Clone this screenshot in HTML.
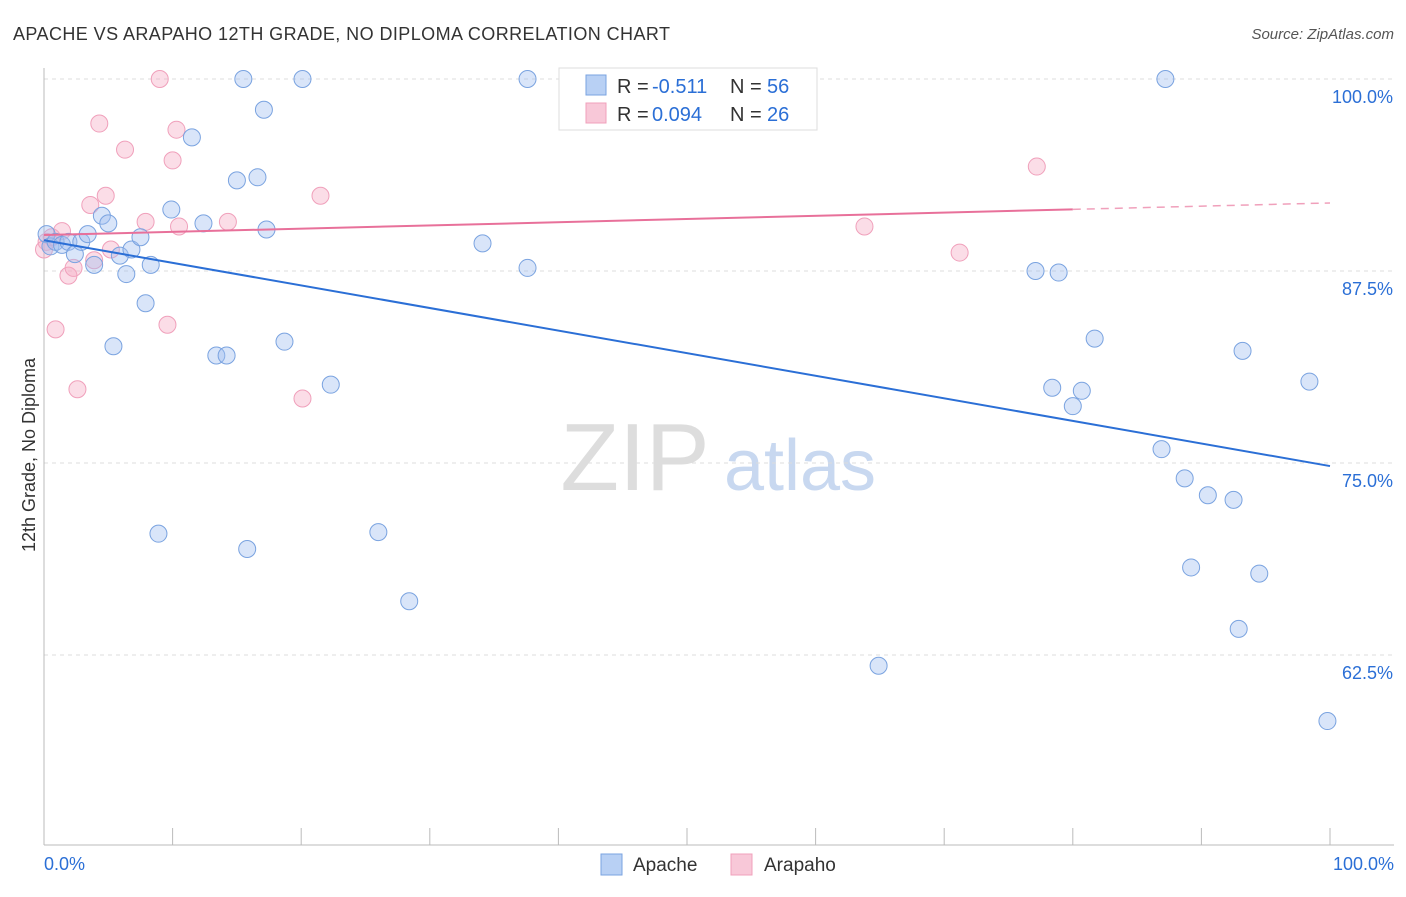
<!DOCTYPE html>
<html><head><meta charset="utf-8"><style>
body{margin:0;background:#fff;font-family:"Liberation Sans",sans-serif;}
svg text{font-family:"Liberation Sans",sans-serif;}
</style></head><body>
<svg id="chart" width="1406" height="892">
<text x="13" y="40" font-size="18" fill="#333" textLength="657">APACHE VS ARAPAHO 12TH GRADE, NO DIPLOMA CORRELATION CHART</text>
<text x="1394" y="39" font-size="15" fill="#555" text-anchor="end" font-style="italic">Source: ZipAtlas.com</text>
<text x="35" y="455" font-size="18" fill="#333" text-anchor="middle" transform="rotate(-90 35 455)">12th Grade, No Diploma</text>
<g><text x="635" y="490" font-size="96" fill="#ddd" text-anchor="middle" font-family="Liberation Serif">ZIP</text><text x="800" y="490" font-size="72" fill="#c8d8f0" text-anchor="middle">atlas</text></g>
<g id="grid"></g><g id="axes"></g><g id="marks"></g>
<g>
<rect x="559" y="68" width="258" height="62" fill="#fff" stroke="#ddd"/>
<rect x="586" y="75" width="20" height="20" fill="#b8d0f4" stroke="#7aa3e0"/>
<text x="617" y="93" font-size="20" fill="#333">R =</text><text x="652" y="93" font-size="20" fill="#2b6fd6">-0.511</text>
<text x="730" y="93" font-size="20" fill="#333">N =</text><text x="767" y="93" font-size="20" fill="#2b6fd6">56</text>
<rect x="586" y="103" width="20" height="20" fill="#f8c8d8" stroke="#f0a0bb"/>
<text x="617" y="121" font-size="20" fill="#333">R =</text><text x="652" y="121" font-size="20" fill="#2b6fd6">0.094</text>
<text x="730" y="121" font-size="20" fill="#333">N =</text><text x="767" y="121" font-size="20" fill="#2b6fd6">26</text>
</g>
<g>
<rect x="601" y="854" width="21" height="21" fill="#b8d0f4" stroke="#7aa3e0"/>
<text x="633" y="871" font-size="19" fill="#333">Apache</text>
<rect x="731" y="854" width="21" height="21" fill="#f8c8d8" stroke="#f0a0bb"/>
<text x="764" y="871" font-size="19" fill="#333">Arapaho</text>
</g>
</svg>
<script>
const yTicks=[100,87.5,75,62.5];
const yTickLabels=["100.0%","87.5%","75.0%","62.5%"];
const apacheX=[0.2,0.5,0.9,1.4,1.9,2.4,2.9,3.4,3.9,4.5,5.0,5.4,5.9,6.4,6.8,7.5,7.9,8.3,8.9,9.9,11.5,12.4,13.4,14.2,15.0,15.5,15.8,16.6,17.1,17.3,18.7,20.1,22.3,26.0,28.4,34.1,37.6,37.6,64.9,77.1,78.4,78.9,80.0,80.7,81.7,86.9,87.2,88.7,89.2,90.5,92.5,92.9,93.2,94.5,98.4,99.8];
const apacheY=[89.9,89.1,89.4,89.2,89.4,88.6,89.4,89.9,87.9,91.1,90.6,82.6,88.5,87.3,88.9,89.7,85.4,87.9,70.4,91.5,96.2,90.6,82.0,82.0,93.4,100,69.4,93.6,98.0,90.2,82.9,100,80.1,70.5,66.0,89.3,100,87.7,61.8,87.5,79.9,87.4,78.7,79.7,83.1,75.9,100,74.0,68.2,72.9,72.6,64.2,82.3,67.8,80.3,58.2];
const arapahoX=[0.2,0.6,0.9,1.4,1.9,2.3,2.6,3.6,3.9,4.3,4.8,5.2,6.3,7.9,9.0,9.6,10.0,10.3,10.5,14.3,20.1,21.5,63.8,71.2,77.2,0];
const arapahoY=[89.4,89.7,83.7,90.1,87.2,87.7,79.8,91.8,88.2,97.1,92.4,88.9,95.4,90.7,100,84.0,94.7,96.7,90.4,90.7,79.2,92.4,90.4,88.7,94.3,88.9];
const trendApache=[89.5,74.8];
const trendArapaho=[89.84,91.93];
const xTicks=[0,10,20,30,40,50,60,70,80,90,100];
const NS="http://www.w3.org/2000/svg";
const X0=44,X1=1330,Y100=79,PPU=15.36;
function sx(v){return X0+(X1-X0)*v/100;}
function sy(v){return Y100+(100-v)*PPU;}
function mk(tag,attrs,parent){const e=document.createElementNS(NS,tag);for(const k in attrs)e.setAttribute(k,attrs[k]);document.getElementById(parent).appendChild(e);return e;}
yTicks.forEach((t,i)=>{
 const l=mk('line',{x1:X0,x2:1394,y1:sy(t),y2:sy(t),stroke:'#ddd','stroke-dasharray':'4,4'},'grid');
 
 
 const tx=mk('text',{x:1393,y:sy(t)+24,'font-size':18,fill:'#2b6fd6','text-anchor':'end'},'axes');
 tx.textContent=yTickLabels[i];
 
 
});
let a=mk('line',{x1:X0,x2:X0,y1:68,y2:845,stroke:'#bbb'},'axes');


a=mk('line',{x1:X0,x2:1394,y1:845,y2:845,stroke:'#bbb'},'axes');


xTicks.forEach(t=>{
 const l=mk('line',{x1:sx(t),x2:sx(t),y1:828,y2:845,stroke:'#bbb'},'axes');
 
 
});
let t=mk('text',{x:44,y:870,'font-size':18,fill:'#2b6fd6'},'axes');t.textContent='0.0%';


t=mk('text',{x:1394,y:870,'font-size':18,fill:'#2b6fd6','text-anchor':'end'},'axes');t.textContent='100.0%';


arapahoX.forEach((x,i)=>{
 const c=mk('circle',{cx:sx(x),cy:sy(arapahoY[i]),r:8.5,fill:'rgba(245,170,195,0.4)',stroke:'#f0a0bb','stroke-width':1},'marks');
 
 
});
apacheX.forEach((x,i)=>{
 const c=mk('circle',{cx:sx(x),cy:sy(apacheY[i]),r:8.5,fill:'rgba(160,190,240,0.4)',stroke:'#7aa3e0','stroke-width':1},'marks');
 
 
});
const ly=v=>trendApache[0]+(trendApache[1]-trendApache[0])*v/100;
let tl=mk('line',{x1:sx(0),y1:sy(ly(0)),x2:sx(100),y2:sy(ly(100)),stroke:'#2b6fd6','stroke-width':2},'marks');


const lp=v=>trendArapaho[0]+(trendArapaho[1]-trendArapaho[0])*v/100;
tl=mk('line',{x1:sx(0),y1:sy(lp(0)),x2:sx(80),y2:sy(lp(80)),stroke:'#e8709a','stroke-width':2},'marks');


tl=mk('line',{x1:sx(80),y1:sy(lp(80)),x2:sx(100),y2:sy(lp(100)),stroke:'#f0a0bb','stroke-width':1.5,'stroke-dasharray':'8,6'},'marks');


</script>
</body></html>
